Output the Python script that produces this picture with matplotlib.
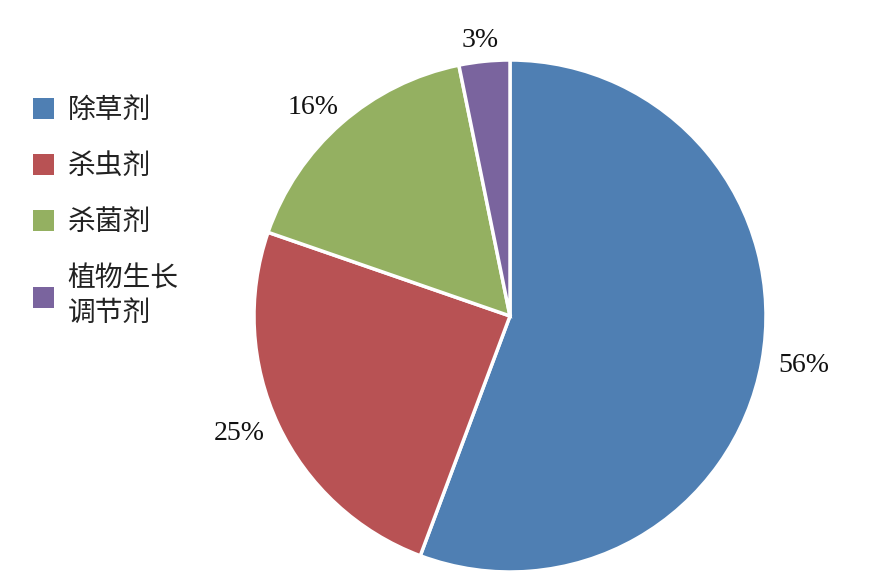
import numpy as np
import matplotlib.pyplot as plt
from matplotlib.patches import Patch

plt.rcParams['font.family'] = ['Noto Sans CJK SC', 'DejaVu Sans']

categorii = ['除草剂', '杀虫剂', '杀菌剂', '植物生长\n调节剂']
valori = [55.7, 24.6, 16.5, 3.2]   # citite din unghiurile feliilor
etichete = ['56%', '25%', '16%', '3%']
culori = ['#4F7FB3', '#B85254', '#94B061', '#7A649E']

fig = plt.figure(figsize=(8.77, 5.88), dpi=100)
# axa pentru placinta: centru ~ (510, 316) px, raza ~256 px
R_px = 256
ax = fig.add_axes([(510 - R_px) / 877, (272 - R_px) / 588, 2 * R_px / 877, 2 * R_px / 588])

wedges, texts = ax.pie(valori, colors=culori, startangle=90, counterclock=False,
                       radius=1.0,
                       wedgeprops=dict(edgecolor='white', linewidth=2.5))

# etichete in afara placintei, ca in Excel
gap = 8 / R_px
a = 35 / R_px   # deplasare orizontala
b = 13 / R_px   # deplasare verticala
for w, et in zip(wedges, etichete):
    ang = np.deg2rad((w.theta1 + w.theta2) / 2)
    x = (1 + gap + a) * np.cos(ang)
    y = (1 + gap + b) * np.sin(ang)
    ax.text(x, y, et, ha='center', va='center', fontsize=20, family='Liberation Serif',
            color='#111111')

ax.set_xlim(-1, 1)
ax.set_ylim(-1, 1)
ax.set_aspect('equal')
ax.axis('off')

handles = [Patch(facecolor=c, edgecolor='none') for c in culori]
leg = fig.legend(handles, categorii, loc='upper left', bbox_to_anchor=(0.025, 1 - 84 / 588),
                 frameon=False, fontsize=20, handlelength=0.75, handleheight=0.75,
                 handletextpad=0.5, labelspacing=0.94, borderaxespad=0)
for t in leg.get_texts():
    t.set_color('#222222')

fig.savefig('out.png', dpi=100)
